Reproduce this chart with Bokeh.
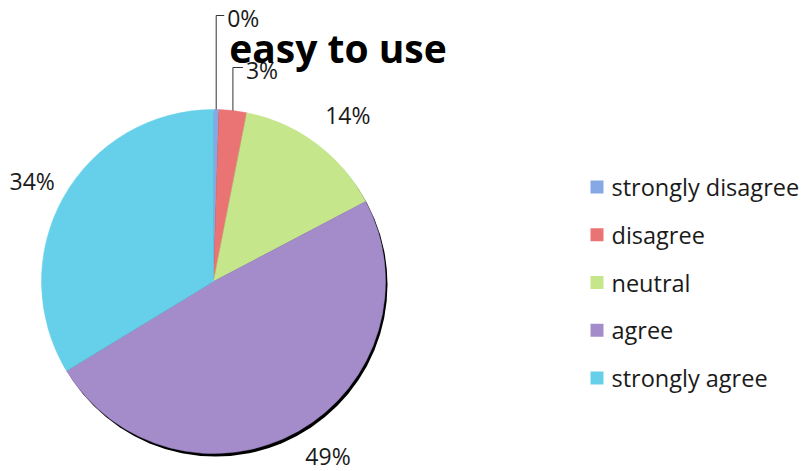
import numpy as np
from bokeh.plotting import figure
from bokeh.models import Range1d, ColumnDataSource
from bokeh.core.properties import value
from bokeh.embed import file_html
from bokeh.resources import INLINE

# ---- data ----
title = "easy to use"
categories = ["strongly disagree", "disagree", "neutral", "agree", "strongly agree"]
shares = [0.5, 2.6, 14.2, 49.0, 33.7]
pct_labels = ["0%", "3%", "14%", "49%", "34%"]
colors = ["#86A9E6", "#EA7474", "#C6E68C", "#A48CCB", "#66D0EA"]

# ---- layout ----
W, H = 807, 471
CX, CY, R = 213, 190, 172
LABEL_DIST = 208
LABEL_NUDGE = {2: (10, 0), 3: (12, 6), 4: (0, -1)}   # (dx, dy) in px, dy up
LEADER_Y_PX = {0: 15, 1: 67}      # leader line heights for tiny slices
LEADER_RUN = {0: 8, 1: 10}
FONT = "Open Sans"

frac = np.array(shares, dtype=float) / sum(shares)
cum_end = np.cumsum(frac) * 2 * np.pi
cum_start = cum_end - frac * 2 * np.pi
start_angle = np.pi / 2 - cum_end
end_angle = np.pi / 2 - cum_start
mid = (cum_start + cum_end) / 2

p = figure(width=W, height=H, x_range=Range1d(0, W), y_range=Range1d(0, H),
           output_backend="svg", toolbar_location=None, min_border=0,
           x_axis_type=None, y_axis_type=None)
p.grid.visible = False
p.outline_line_color = None
p.background_fill_color = "white"

# shadow edge
p.circle(x=[CX + 2], y=[CY - 3], radius=R, radius_units="data",
         fill_color="black", line_color=None)

src = ColumnDataSource(dict(cat=categories, start=start_angle, end=end_angle, color=colors))
p.wedge(x=CX, y=CY, radius=R, radius_units="data", start_angle="start", end_angle="end",
        fill_color="color", line_color="color", line_width=0.5, source=src)

# percentage labels
lx, ly, lt = [], [], []
ax, ay, at = [], [], []
lead_xs, lead_ys = [], []
for i, lab in enumerate(pct_labels):
    if i in LEADER_Y_PX:
        ex = CX + R * np.sin(mid[i])
        ey = CY + R * np.cos(mid[i])
        ty = H - LEADER_Y_PX[i]
        run = LEADER_RUN[i]
        lead_xs.append([ex, ex, ex + run])
        lead_ys.append([ey, ty, ty])
        ax.append(ex + run + 3)
        ay.append(ty - 2)
        at.append(lab)
    else:
        dx, dy = LABEL_NUDGE.get(i, (0, 0))
        lx.append(CX + LABEL_DIST * np.sin(mid[i]) + dx)
        ly.append(CY + LABEL_DIST * np.cos(mid[i]) + dy)
        lt.append(lab)

p.multi_line(xs=lead_xs, ys=lead_ys, line_color="#333333", line_width=1)
p.text(x=lx, y=ly, text=lt, text_font=value(FONT), text_font_size="23px",
       text_align="center", text_baseline="middle", text_color="#1a1a1a")
p.text(x=ax, y=ay, text=at, text_font=value(FONT), text_font_size="23px",
       text_align="left", text_baseline="middle", text_color="#1a1a1a")

# title
p.text(x=[337.5], y=[H - 47], text=[title], text_font=value(FONT), text_font_size="39px",
       text_font_style="bold", text_align="center", text_baseline="alphabetic",
       text_color="black")

# legend
rows = np.arange(len(categories))
leg_y = H - (186.5 + rows * 47.75)
p.scatter(x=[596.5] * len(categories), y=leg_y, marker="square", size=13,
          fill_color=colors, line_color=None)
p.text(x=[611] * len(categories), y=leg_y, text=categories, text_font=value(FONT),
       text_font_size="23.5px", text_align="left", text_baseline="middle", text_color="#1a1a1a")

open("out.html", "w").write(file_html(p, INLINE))
